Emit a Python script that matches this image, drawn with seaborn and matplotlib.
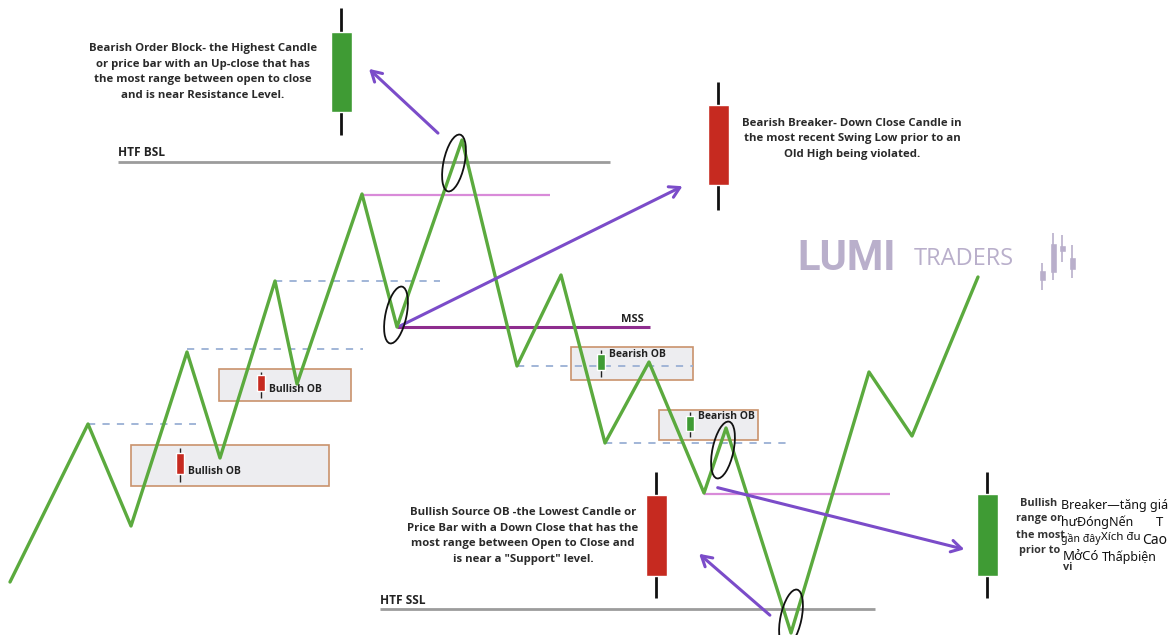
import matplotlib
matplotlib.use("Agg")
import matplotlib.pyplot as plt
import seaborn as sns
import numpy as np
import pandas as pd
from matplotlib.patches import Ellipse, Rectangle

sns.set_theme(style="white")
plt.rcParams['font.family'] = ['Open Sans', 'Noto Sans', 'DejaVu Sans']

# ---------------- data (diagram coordinates, y grows downward) ----------------
zigzag_x = [10, 88, 131, 187, 220, 275, 297, 362, 397, 462, 517, 561, 605, 649, 704, 726, 791, 869, 912, 978]
zigzag_y = [582, 424, 526, 352, 458, 281, 384, 194, 327, 140, 366, 275, 443, 362, 493, 428, 633, 372, 436, 277]

# horizontal levels
liquidity_names = ["HTF BSL", "HTF SSL"]
liquidity_x0 = [118, 380]
liquidity_x1 = [610, 875]
liquidity_y = [162, 609]

dashed_x0 = [88, 187, 275, 517, 605]
dashed_x1 = [196, 363, 440, 693, 790]
dashed_y = [424, 349, 281, 366, 443]

pink_x0 = [362, 704]
pink_x1 = [550, 890]
pink_y = [195, 494]

mss_x = [397, 650]
mss_y = 327

# order block zones
ob_labels = ["Bullish OB", "Bullish OB", "Bearish OB", "Bearish OB"]
ob_x0 = [131, 219, 571, 659]
ob_x1 = [329, 351, 693, 758]
ob_top = [445, 369, 347, 410]
ob_bottom = [486, 401, 380, 440]
ob_candle_x = [180, 261, 601, 690]
ob_candle_dir = ["down", "down", "up", "up"]

# large annotation candles
big_x = [341, 718, 656, 987]
big_body_top = [32, 105, 495, 494]
big_body_bot = [112, 185, 576, 576]
big_wick_top = [8, 82, 472, 472]
big_wick_bot = [135, 210, 598, 598]
big_dir = ["up", "down", "down", "up"]

# arrows (start -> end)
arrow_start = [(440, 135), (398, 327), (715, 487), (772, 617)]
arrow_end = [(367, 67), (685, 185), (967, 550), (697, 552)]

# circled swing points
circle_x = [454, 396, 723, 791]
circle_y = [163, 315, 450, 618]

# logo candles
logo_x = [1042, 1053, 1062, 1072]
logo_body = [(270, 281), (243, 273), (245, 252), (257, 270)]
logo_wick = [(263, 290), (233, 280), (235, 262), (245, 278)]

txt_bear_ob = "Bearish Order Block- the Highest Candle\nor price bar with an Up-close that has\nthe most range between open to close\nand is near Resistance Level."
txt_bear_breaker = "Bearish Breaker- Down Close Candle in\nthe most recent Swing Low prior to an\nOld High being violated."
txt_bull_source = "Bullish Source OB -the Lowest Candle or\nPrice Bar with a Down Close that has the\nmost range between Open to Close and\nis near a \"Support\" level."

# cut-off bullish breaker text and the translated overlay on top of it
frag = ["Bullish", "range or", "the most", "prior to", "vi"]
frag_x = [1020, 1016, 1016, 1019, 1063]
frag_y = [503, 519, 535, 551, 568]
ov = ["Breaker—tăng giá", "hưĐóngNến", "T", "gần đây", "Xích đu", "Cao", "MởCó", "Thấpbiện"]
ov_x = [1061, 1061, 1156, 1061, 1101, 1142, 1063, 1102]
ov_y = [505, 522, 522, 539, 538, 540, 557, 557]
ov_s = [9, 9, 9.5, 7.6, 8.3, 10, 9.5, 9]

GREEN = "#5BAA3E"
CGREEN = "#3F9B34"
CRED = "#C62A20"
PURPLE = "#7B4CC9"
PINK = "#D98BD9"
MSSC = "#8E2D8E"
DASH = "#9AB0D4"
GREY = "#9C9C9C"
LOGO = "#B9AFCB"

fig = plt.figure(figsize=(11.75, 6.35), dpi=100)
ax = fig.add_axes([0, 0, 1, 1])

# zones
for lab, x0, x1, t, b, cx, d in zip(ob_labels, ob_x0, ob_x1, ob_top, ob_bottom, ob_candle_x, ob_candle_dir):
    ax.add_patch(Rectangle((x0, t), x1 - x0, b - t, facecolor="#EDEDF0", edgecolor="#C9926C", lw=1.2, zorder=1))
    h = b - t
    col = CRED if d == "down" else CGREEN
    ax.vlines(cx, t + 0.08 * h, b - 0.1 * h, color="#222222", lw=1.0, zorder=3)
    ax.bar(cx, 0.5 * h, bottom=t + 0.2 * h, width=8, color=col, zorder=4)
    if lab.startswith("Bullish"):
        ax.text(cx + 8, t + 0.65 * h, lab, fontsize=7.5, fontweight="bold", color="#222222", va="center", zorder=5)
    else:
        ax.text(cx + 8, t + 0.22 * h, lab, fontsize=7.5, fontweight="bold", color="#222222", va="center", zorder=5)

# levels
for name, x0, x1, y in zip(liquidity_names, liquidity_x0, liquidity_x1, liquidity_y):
    ax.hlines(y, x0, x1, color=GREY, lw=2.0, zorder=2)
    ax.text(x0, y - 9, name, fontsize=8.6, fontweight="bold", color="#222222", va="center", zorder=5)
for x0, x1, y in zip(dashed_x0, dashed_x1, dashed_y):
    ax.hlines(y, x0, x1, color=DASH, lw=1.3, linestyles=(0, (4, 4)), zorder=2)
for x0, x1, y in zip(pink_x0, pink_x1, pink_y):
    ax.hlines(y, x0, x1, color=PINK, lw=1.6, zorder=2)
ax.hlines(mss_y, mss_x[0], mss_x[1], color=MSSC, lw=2.2, zorder=2)
ax.text(621, mss_y - 7, "MSS", fontsize=8, fontweight="bold", color="#222222", va="center")

# price path
df = pd.DataFrame({"x": zigzag_x, "y": zigzag_y})
sns.lineplot(data=df, x="x", y="y", sort=False, estimator=None, color=GREEN, lw=2.4, ax=ax, zorder=6)

# big candles
for x, bt, bb, wt, wb, d in zip(big_x, big_body_top, big_body_bot, big_wick_top, big_wick_bot, big_dir):
    col = CGREEN if d == "up" else CRED
    ax.vlines(x, wt, wb, color="#111111", lw=2.0, zorder=3)
    ax.bar(x, bb - bt, bottom=bt, width=21, color=col, zorder=4)

# arrows
for s, e in zip(arrow_start, arrow_end):
    ax.annotate("", xy=e, xytext=s,
                arrowprops=dict(arrowstyle="->,head_length=0.6,head_width=0.35", color=PURPLE, lw=2.2),
                zorder=7)

# circles
for cx, cy in zip(circle_x, circle_y):
    ax.add_patch(Ellipse((cx, cy), 21, 58, angle=12, fill=False, edgecolor="#111111", lw=1.3, zorder=8))

# texts
kw = dict(fontsize=8.2, fontweight="bold", color="#2a2a2a", ha="center", va="center",
          multialignment="center", linespacing=1.6)
ax.text(203, 72, txt_bear_ob, **kw)
ax.text(852, 139, txt_bear_breaker, **kw)
ax.text(523, 536, txt_bull_source, **kw)

for t, x, y in zip(frag, frag_x, frag_y):
    ax.text(x, y, t, fontsize=7.8, fontweight="bold", color="#333333", va="center", zorder=5)
for t, x, y, s in zip(ov, ov_x, ov_y, ov_s):
    ax.text(x, y, t, fontsize=s, color="#111111", va="center", family=["Noto Sans", "DejaVu Sans"], zorder=7)

# logo
ax.text(797, 259, "LUMI", fontsize=30, fontweight="bold", color=LOGO, va="center", family=["Roboto", "DejaVu Sans"])
ax.text(914, 259, "TRADERS", fontsize=17, color=LOGO, va="center", family=["Open Sans", "DejaVu Sans"])
for x, (bt, bb), (wt, wb) in zip(logo_x, logo_body, logo_wick):
    ax.vlines(x, wt, wb, color=LOGO, lw=1.2)
    ax.bar(x, bb - bt, bottom=bt, width=7, color=LOGO)

ax.set_xlim(0, 1175)
ax.set_ylim(635, 0)
ax.axis("off")

fig.savefig("out.png", dpi=100, facecolor="white")
